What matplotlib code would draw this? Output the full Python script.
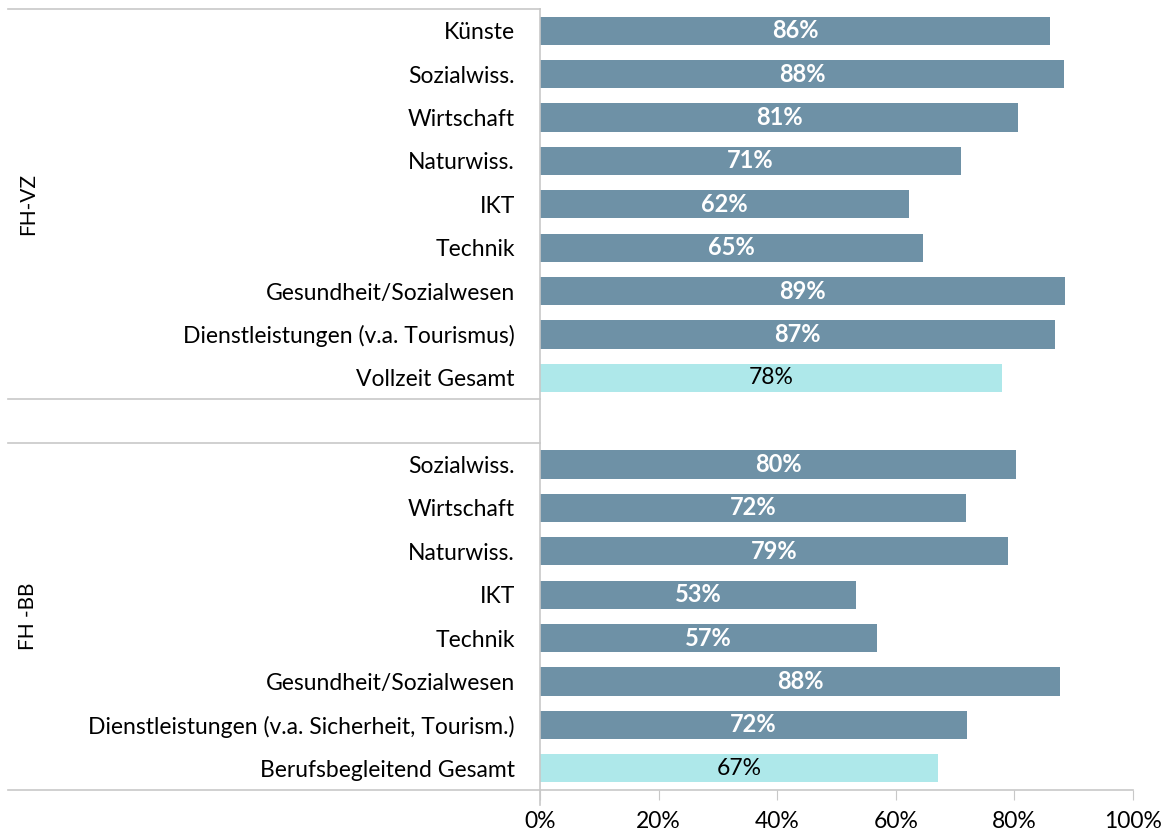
import matplotlib
matplotlib.use("Agg")
import matplotlib.pyplot as plt
import matplotlib.transforms as mtransforms
import numpy as np

plt.rcParams['font.family'] = ['Lato', 'DejaVu Sans']

vz_categories = ["Künste", "Sozialwiss.", "Wirtschaft", "Naturwiss.", "IKT", "Technik",
                 "Gesundheit/Sozialwesen", "Dienstleistungen (v.a. Tourismus)", "Vollzeit Gesamt"]
vz_values = [86.0, 88.4, 80.6, 71.0, 62.2, 64.6, 88.6, 86.8, 77.9]

bb_categories = ["Sozialwiss.", "Wirtschaft", "Naturwiss.", "IKT", "Technik",
                 "Gesundheit/Sozialwesen", "Dienstleistungen (v.a. Sicherheit, Tourism.)",
                 "Berufsbegleitend Gesamt"]
bb_values = [80.3, 71.8, 78.9, 53.3, 56.8, 87.7, 72.0, 67.1]

group_labels = ["FH-VZ", "FH -BB"]
x_ticks = [0, 20, 40, 60, 80, 100]
x_tick_labels = ["0%", "20%", "40%", "60%", "80%", "100%"]

dark = "#6E91A6"
light = "#AEE8EA"
grid_gray = "#C8C8C8"
fs = 16.5

fig = plt.figure(figsize=(11.69, 8.32), dpi=100)
ax = fig.add_axes([540/1169, 1 - 790/832, (1133-540)/1169, (790-9)/832])

labels = vz_categories + [""] + bb_categories
values = vz_values + [np.nan] + bb_values
colors = [dark]*(len(vz_categories)-1) + [light] + [dark] + [dark]*(len(bb_categories)-1) + [light]
ypos = np.arange(len(labels))

bars = ax.barh(ypos, [0 if np.isnan(v) else v for v in values], height=0.65, color=colors)
for y, v, c in zip(ypos, values, colors):
    if np.isnan(v):
        continue
    if c == light:
        ax.text(v/2, y, f"{round(v):d}%", ha="center", va="center", fontsize=fs, color="black")
    else:
        ax.text(v/2, y, f"{round(v):d}%", ha="center", va="center", fontsize=17,
                color="white", fontweight="bold")

ax.set_ylim(len(labels)-0.5, -0.5)
ax.set_xlim(0, 100)
ax.set_yticks(ypos)
ax.set_yticklabels(labels, fontsize=fs)
ax.tick_params(axis="y", length=0, pad=18)
ax.set_xticks(x_ticks)
ax.set_xticklabels(x_tick_labels, fontsize=fs)
ax.tick_params(axis="x", length=7, color=grid_gray, pad=8)

for s in ["top", "right"]:
    ax.spines[s].set_visible(False)
for s in ["left", "bottom"]:
    ax.spines[s].set_color(grid_gray)
    ax.spines[s].set_linewidth(1.2)

# group separator lines
trans = mtransforms.blended_transform_factory(ax.transAxes, ax.transData)
x_left = (8 - 540) / 593
for yl in [-0.5, len(vz_categories)-0.5, len(vz_categories)+0.5, len(labels)-0.5]:
    ax.plot([x_left, 0], [yl, yl], transform=trans, color=grid_gray, lw=1.2, clip_on=False)
# vertical axis line extension below
ax.plot([0, 0], [len(labels)-0.5, len(labels)-0.5+0.35], color=grid_gray, lw=1.2, clip_on=False)

# group labels
gx = (28 - 540) / 593
ax.text(gx, (len(vz_categories)-1)/2, group_labels[0], transform=trans, rotation=90,
        ha="center", va="center", fontsize=15)
ax.text(gx, len(vz_categories)+1+(len(bb_categories)-1)/2, group_labels[1], transform=trans,
        rotation=90, ha="center", va="center", fontsize=15)

fig.savefig("out.png", dpi=100)
